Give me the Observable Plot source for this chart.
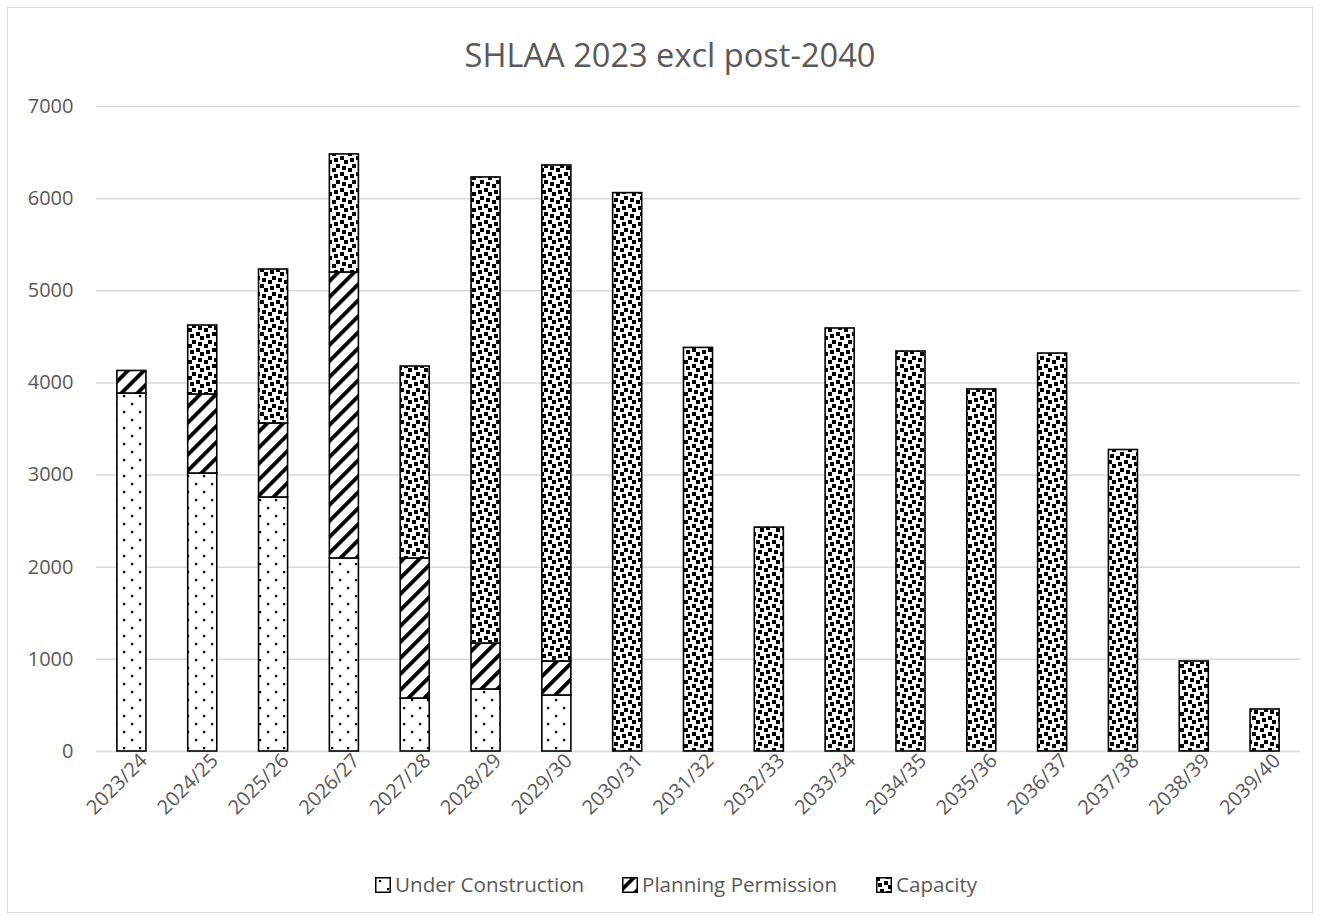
<!DOCTYPE html>
<html>
<head>
<meta charset="utf-8">
<script src="https://cdn.jsdelivr.net/npm/d3@7"></script>
<script src="https://cdn.jsdelivr.net/npm/@observablehq/plot@0.6"></script>
<style>
  html, body { margin: 0; padding: 0; background: #fff; }
  #wrap { position: relative; width: 1322px; height: 921px; font-family: "Open Sans", sans-serif; color: #595959; }
  #frame { position: absolute; left: 7px; top: 7px; width: 1306px; height: 906px; border: 1px solid #d9d9d9; box-sizing: border-box; }
  #title { position: absolute; left: 9px; width: 1322px; top: 32px; text-align: center; font-size: 32.6px; color: #595959; }
  #chart { position: absolute; left: 0; top: 0; }
  #legend { position: absolute; left: 0; top: 869px; width: 1322px; }
</style>
</head>
<body>
<div id="wrap">
  <div id="frame"></div>
  <div id="title">SHLAA 2023 excl post-2040</div>
  <div id="chart"></div>
  <div id="legend"></div>
</div>
<script>
const categories = ["2023/24","2024/25","2025/26","2026/27","2027/28","2028/29","2029/30","2030/31","2031/32","2032/33","2033/34","2034/35","2035/36","2036/37","2037/38","2038/39","2039/40"];
const seriesNames = ["Under Construction", "Planning Permission", "Capacity"];
const underConstruction = [3885, 3017, 2757, 2095, 575, 673, 608, 0, 0, 0, 0, 0, 0, 0, 0, 0, 0];
const planningPermission = [245, 858, 803, 3104, 1520, 499, 369, 0, 0, 0, 0, 0, 0, 0, 0, 0, 0];
const capacity = [0, 748, 1671, 1281, 2083, 5058, 5383, 6060, 4380, 2430, 4591, 4341, 3929, 4319, 3272, 977, 456];
const yTicks = [0, 1000, 2000, 3000, 4000, 5000, 6000, 7000];

const seriesValues = [underConstruction, planningPermission, capacity];
const data = [];
categories.forEach((c, i) => {
  seriesNames.forEach((s, j) => {
    if (seriesValues[j][i] > 0) data.push({year: c, series: s, value: seriesValues[j][i]});
  });
});

const patternIds = ["pat-uc", "pat-pp", "pat-cap"];

function addPatterns(svgSel, prefix) {
  const defs = svgSel.insert("defs", ":first-child");
  // Under Construction: sparse dots
  const uc = defs.append("pattern").attr("id", prefix + "uc").attr("patternUnits", "userSpaceOnUse")
    .attr("width", 16).attr("height", 16);
  uc.append("rect").attr("width", 16).attr("height", 16).attr("fill", "#fff");
  [[3,3],[11,11]].forEach(([x,y]) => uc.append("rect").attr("x", x).attr("y", y).attr("width", 2.2).attr("height", 2.2).attr("fill", "#000"));
  // Planning Permission: wide upward diagonal
  const pp = defs.append("pattern").attr("id", prefix + "pp").attr("patternUnits", "userSpaceOnUse")
    .attr("width", 11.31).attr("height", 11.31).attr("patternTransform", "rotate(45)");
  pp.append("rect").attr("width", 11.31).attr("height", 11.31).attr("fill", "#fff");
  pp.append("rect").attr("x", 0).attr("width", 3.9).attr("height", 11.31).attr("fill", "#000");
  // Capacity: large confetti
  const cap = defs.append("pattern").attr("id", prefix + "cap").attr("patternUnits", "userSpaceOnUse")
    .attr("width", 16).attr("height", 16);
  cap.append("rect").attr("width", 16).attr("height", 16).attr("fill", "#fff");
  const s = 4;
  [[8,0],[0,4],[6,6],[12,8],[4,12],[14,14],[-2,14],[14,-2],[-2,-2]].forEach(([x,y]) =>
    cap.append("rect").attr("x", x).attr("y", y).attr("width", s).attr("height", s).attr("fill", "#000"));
}

const plot = Plot.plot({
  width: 1322,
  height: 860,
  marginLeft: 96,
  marginRight: 22,
  marginTop: 106,
  marginBottom: 109,
  style: {fontFamily: "Open Sans, sans-serif", fontSize: "20px", color: "#595959", background: "transparent", overflow: "visible"},
  x: {domain: categories, paddingInner: 0.59, paddingOuter: 0.295, round: false, label: null},
  y: {domain: [0, 7000], label: null},
  color: {domain: seriesNames, range: patternIds.map(id => `url(#${id})`)},
  marks: [
    Plot.gridY(yTicks, {stroke: "#d9d9d9", strokeOpacity: 1, strokeWidth: 1.5}),
    Plot.axisY(yTicks, {tickSize: 0, tickPadding: 23, tickFormat: d => String(d), fill: "#595959", fontSize: 20, label: null}),
    Plot.axisX({tickRotate: -45, tickSize: 0, tickPadding: 6, dx: 12, fill: "#595959", fontSize: 20, label: null}),
    Plot.barY(data, Plot.stackY({x: "year", y: "value", fill: "series", order: seriesNames, stroke: "#000", strokeWidth: 1.6}))
  ]
});

const svg = d3.select(plot);
addPatterns(svg, "pat-");
document.getElementById("chart").appendChild(plot);

// Legend
const legendItems = [
  {name: seriesNames[0], x: 375, id: "lg-uc"},
  {name: seriesNames[1], x: 622, id: "lg-pp"},
  {name: seriesNames[2], x: 876, id: "lg-cap"}
];
const lsvg = d3.select("#legend").append("svg").attr("width", 1322).attr("height", 36)
  .style("font-family", "Open Sans, sans-serif");
addPatterns(lsvg, "lg-");
legendItems.forEach(it => {
  lsvg.append("rect").attr("x", it.x + 0.75).attr("y", 8.75).attr("width", 14.5).attr("height", 14.5)
    .attr("fill", `url(#${it.id})`).attr("stroke", "#000").attr("stroke-width", 1.5);
  lsvg.append("text").attr("x", it.x + 20).attr("y", 16).attr("dy", "0.35em")
    .attr("font-size", 20.6).attr("fill", "#595959").text(it.name);
});
</script>
</body>
</html>
